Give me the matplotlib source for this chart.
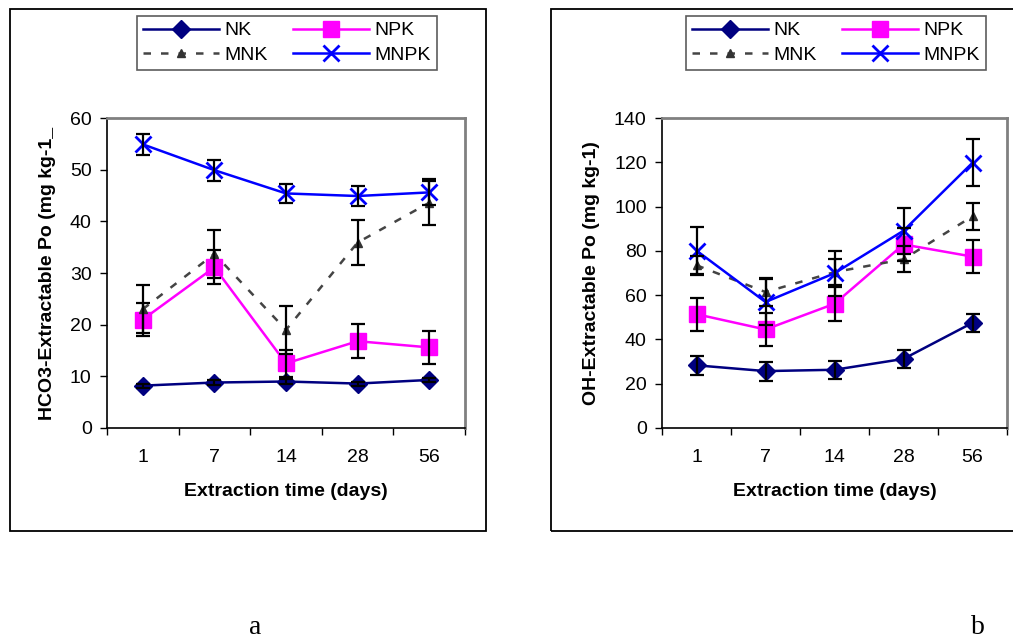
import matplotlib.pyplot as plt
from matplotlib.patches import Rectangle

plt.rcParams['font.family'] = ['Liberation Sans', 'DejaVu Sans']

days = ["1", "7", "14", "28", "56"]

# panel a: HCO3-extractable Po
hco3_nk = [8.2, 8.8, 9.0, 8.6, 9.3]
hco3_nk_err = [0.4, 0.4, 0.4, 0.4, 0.4]
hco3_npk = [21.0, 31.1, 12.5, 16.8, 15.6]
hco3_npk_err = [3.1, 3.3, 2.6, 3.3, 3.2]
hco3_mnk = [23.0, 33.7, 19.0, 35.9, 43.6]
hco3_mnk_err = [4.6, 4.7, 4.6, 4.4, 4.3]
hco3_mnpk = [54.9, 49.9, 45.4, 44.9, 45.6]
hco3_mnpk_err = [2.0, 2.0, 1.9, 2.0, 2.5]

# panel b: OH-extractable Po
oh_nk = [28.3, 25.7, 26.3, 31.2, 47.5]
oh_nk_err = [4.3, 4.3, 4.1, 4.0, 4.0]
oh_npk = [51.4, 44.5, 56.1, 82.9, 77.4]
oh_npk_err = [7.5, 7.3, 7.8, 7.5, 7.6]
oh_mnk = [73.5, 61.4, 70.4, 76.2, 95.6]
oh_mnk_err = [4.3, 6.4, 6.0, 5.8, 6.0]
oh_mnpk = [80.1, 56.9, 69.9, 89.1, 119.8]
oh_mnpk_err = [10.6, 10.5, 10.2, 10.4, 10.5]

styles = {
    "NK": dict(color="#000080", marker="D", ms=9, ls="-", lw=1.8, mec="#000080"),
    "NPK": dict(color="#FF00FF", marker="s", ms=11, ls="-", lw=1.8, mec="#FF00FF"),
    "MNK": dict(color="#444444", marker="^", ms=6, ls=(0, (3, 4)), lw=1.8, mec="#333333", mfc="#333333"),
    "MNPK": dict(color="#0000FF", marker="x", ms=11, mew=2, ls="-", lw=1.8),
}


def draw_panel(fig, rect, series, ymax, ystep, ylabel, ylab_x, legend_left):
    ax = fig.add_axes(rect)
    x = list(range(len(days)))
    handles = {}
    for name, vals, errs in series:
        ln, = ax.plot(x, vals, label=name, zorder=3, **styles[name])
        handles[name] = ln
        ax.errorbar(x, vals, yerr=errs, fmt="none", ecolor="black",
                    elinewidth=1.6, capsize=5, capthick=1.6, zorder=4)
    ax.set_xlim(-0.5, len(days) - 0.5)
    ax.set_ylim(0, ymax)
    ax.set_yticks(range(0, ymax + 1, ystep))
    ax.set_xticks([i - 0.5 for i in range(len(days) + 1)])
    ax.set_xticklabels([])
    ax.set_xticks(x, minor=True)
    ax.set_xticklabels(days, minor=True)
    ax.tick_params(axis="x", which="major", direction="out", length=5, width=1)
    ax.tick_params(axis="x", which="minor", length=0, pad=15, labelsize=14)
    ax.tick_params(axis="y", direction="out", length=5, width=1, pad=6, labelsize=14)
    for s in ("top", "right"):
        ax.spines[s].set_color("#808080")
        ax.spines[s].set_linewidth(2)
    for s in ("left", "bottom"):
        ax.spines[s].set_linewidth(1.2)
    ax.set_xlabel("Extraction time (days)", fontsize=14, fontweight="bold")
    ax.xaxis.set_label_coords(0.5, -0.206)
    ax.xaxis.label.set_va("center")
    ax.set_ylabel(ylabel, fontsize=14, fontweight="bold")
    ax.yaxis.set_label_coords(ylab_x, 0.5)
    ax.yaxis.label.set_va("center")
    order = ["NK", "MNK", "NPK", "MNPK"]
    leg = ax.legend([handles[k] for k in order], order, ncol=2, loc="upper left",
                    bbox_to_anchor=(legend_left, 1 - 16 / 641), bbox_transform=fig.transFigure,
                    borderaxespad=0, fancybox=False, frameon=True, fontsize=14,
                    handlelength=3.9, handletextpad=0.3, columnspacing=1.3,
                    labelspacing=0.35, borderpad=0.3)
    leg.get_frame().set_edgecolor("#333333")
    leg.get_frame().set_linewidth(1.2)
    return ax


fig = plt.figure(figsize=(10.13, 6.41), dpi=100)

draw_panel(fig, [107 / 1013, 1 - 428 / 641, 358 / 1013, 310 / 641],
           [("NK", hco3_nk, hco3_nk_err), ("NPK", hco3_npk, hco3_npk_err),
            ("MNK", hco3_mnk, hco3_mnk_err), ("MNPK", hco3_mnpk, hco3_mnpk_err)],
           60, 10, "HCO3-Extractable Po (mg kg-1_", -0.165, 137 / 1013)

draw_panel(fig, [662 / 1013, 1 - 428 / 641, 345 / 1013, 310 / 641],
           [("NK", oh_nk, oh_nk_err), ("NPK", oh_npk, oh_npk_err),
            ("MNK", oh_mnk, oh_mnk_err), ("MNPK", oh_mnpk, oh_mnpk_err)],
           140, 20, "OH-Extractable Po (mg kg-1)", -0.203, 686 / 1013)

# outer frames around each panel
fig.patches.append(Rectangle((10 / 1013, 1 - 531 / 641), 476 / 1013, 522 / 641,
                             transform=fig.transFigure, fill=False, ec="black", lw=1.3))
fig.patches.append(Rectangle((551 / 1013, 1 - 531 / 641), 470 / 1013, 522 / 641,
                             transform=fig.transFigure, fill=False, ec="black", lw=1.3))

fig.text(255 / 1013, 1 - 628 / 641, "a", ha="center", va="center",
         family="Liberation Serif", fontsize=20)
fig.text(978 / 1013, 1 - 628 / 641, "b", ha="center", va="center",
         family="Liberation Serif", fontsize=20)

fig.savefig("out.png", dpi=100)
